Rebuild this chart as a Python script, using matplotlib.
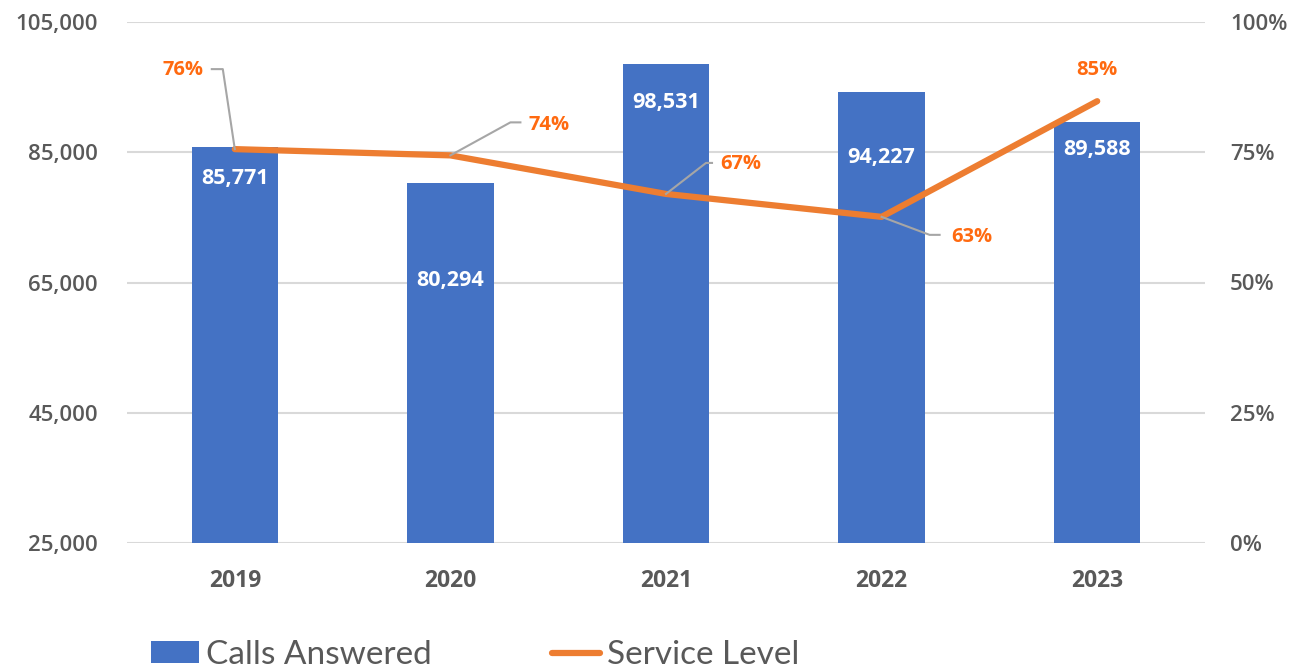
import matplotlib
matplotlib.use("Agg")
import matplotlib.pyplot as plt
from matplotlib.lines import Line2D
from matplotlib.transforms import IdentityTransform
import matplotlib.font_manager as fm

years = ["2019", "2020", "2021", "2022", "2023"]
calls_answered = [85771, 80294, 98531, 94227, 89588]
service_level = [0.756, 0.744, 0.670, 0.626, 0.848]

left_ticks = [25000, 45000, 65000, 85000, 105000]
right_ticks = [0, 0.25, 0.5, 0.75, 1.0]

names = {f.name for f in fm.fontManager.ttflist}
narrow = "Lato" if "Lato" in names else "DejaVu Sans"
main = "Open Sans" if "Open Sans" in names else "DejaVu Sans"

BLUE = "#4472C4"
ORANGE = "#ED7D31"
LBL_ORANGE = "#FF6A10"
GRAY_TXT = "#595959"
GRID = "#D9D9D9"
LEADER = "#A6A6A6"

fig = plt.figure(figsize=(13.04, 6.69), dpi=100)
fig.subplots_adjust(left=127/1304, right=1205/1304, top=1-22/669, bottom=1-543/669)
ax = fig.add_subplot(111)
ax2 = ax.twinx()

x = list(range(len(years)))
bars = ax.bar(x, calls_answered, width=0.40, color=BLUE, zorder=2, label="Calls Answered")
ax.set_xlim(-0.5, len(years) - 0.5)
ax.set_ylim(left_ticks[0], left_ticks[-1])
tick_kw = dict(fontfamily=main, fontweight="semibold", fontsize=16, color=GRAY_TXT)
ax.set_yticks(left_ticks, labels=[f"{v:,}" for v in left_ticks], **tick_kw)
ax.grid(axis="y", color=GRID, linewidth=1.5, zorder=0)
ax.set_axisbelow(True)
ax.set_xticks(x, labels=years, fontfamily=main, fontweight="bold", fontsize=16.5, color=GRAY_TXT)
for s in ax.spines.values():
    s.set_visible(False)
for s in ax2.spines.values():
    s.set_visible(False)
ax.tick_params(axis="both", length=0)
ax.tick_params(axis="y", pad=21)
ax.tick_params(axis="x", pad=19)

line, = ax2.plot(x, service_level, color=ORANGE, linewidth=4.5, solid_capstyle="round",
                 zorder=3, label="Service Level")
ax2.set_ylim(right_ticks[0], right_ticks[-1])
ax2.set_yticks(right_ticks, labels=[f"{v:.0%}" for v in right_ticks], **tick_kw)
ax2.tick_params(axis="y", length=0, pad=18)
ax.set_zorder(1)
ax2.set_zorder(2)

# bar value labels (pixel offset below bar top)
bar_label_dy = [31, 98, 38, 65, 27]
for i, (b, v) in enumerate(zip(bars, calls_answered)):
    ax.annotate(f"{v:,}", xy=(b.get_x() + b.get_width() / 2, v), xytext=(0, -bar_label_dy[i]),
                textcoords="offset pixels", ha="center", va="center", color="white",
                fontsize=15.5, fontweight="bold", fontfamily=main, zorder=5)

# service level labels with leader lines (pixel offsets: corner, end, text)
leaders = [
    ((-12, 80), (-23, 80), (-52, 79)),
    ((60, 33), (70, 33), (99, 30)),
    ((40, 31), (46, 31), (75, 30)),
    ((48, -18), (58, -18), (90, -20)),
    (None, None, (0, 31)),
]
fig.canvas.draw()
for i, v in enumerate(service_level):
    corner, end, txt = leaders[i]
    px, py = ax2.transData.transform((x[i], v))
    if corner is not None:
        fig.add_artist(Line2D([px, px + corner[0], px + end[0]],
                              [py, py + corner[1], py + end[1]],
                              transform=IdentityTransform(), color=LEADER, linewidth=1.5, zorder=4))
    ax2.annotate(f"{v:.0%}", xy=(x[i], v), xytext=txt, textcoords="offset pixels",
                 ha="center", va="center", color=LBL_ORANGE, fontsize=14.5,
                 fontweight="bold", fontfamily=main, zorder=6)

leg = fig.legend([bars, line], ["Calls Answered", "Service Level"], loc="center",
                 bbox_to_anchor=(475/1304, 0.021), ncol=2, frameon=False,
                 prop={"family": narrow, "size": 24},
                 handlelength=1.45, handleheight=0.62, handletextpad=0.2, columnspacing=3.6)
for t in leg.get_texts():
    t.set_color(GRAY_TXT)

fig.savefig("out.png", dpi=100)
